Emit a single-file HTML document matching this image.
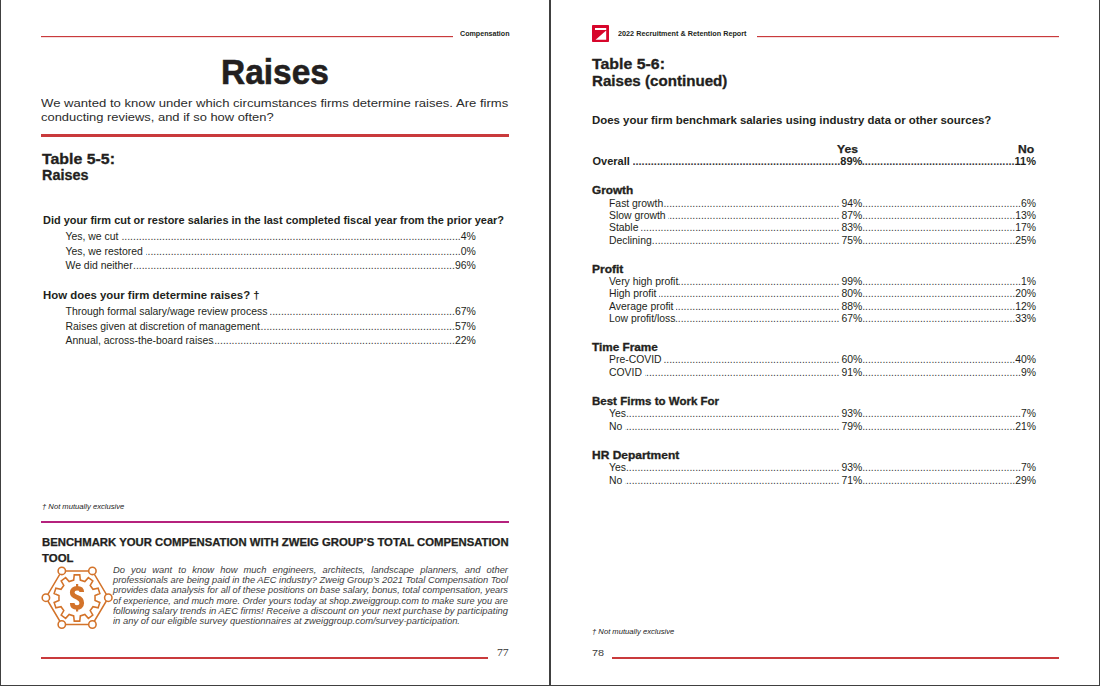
<!DOCTYPE html>
<html><head><meta charset="utf-8"><style>
html,body{margin:0;padding:0;background:#fff;}
body{width:1100px;height:686px;position:relative;overflow:hidden;font-family:"Liberation Sans", sans-serif;}
.t{position:absolute;white-space:nowrap;transform-origin:0 0;}
.r{position:absolute;}
.row{position:absolute;display:flex;white-space:nowrap;font-family:"Liberation Sans", sans-serif;}
.lb{flex:none;white-space:pre;}
.ld{flex:1 1 auto;overflow:hidden;direction:rtl;min-width:0;color:#3a3a3a;}
.pc{flex:none;}
.ld2{flex:none;display:flex;}
</style></head><body>
<div class="r" style="left:0px;top:0px;width:1px;height:686px;background:#404040;"></div>
<div class="r" style="left:1099px;top:0px;width:1px;height:686px;background:#404040;"></div>
<div class="r" style="left:0px;top:685px;width:1100px;height:1px;background:#404040;"></div>
<div class="r" style="left:549px;top:0px;width:2px;height:686px;background:#404040;"></div>
<div class="r" style="left:41px;top:36px;width:412px;height:1px;background:#c93a3c;box-shadow:0 0.5px 0.5px rgba(201,58,60,0.35)"></div>
<div class="t" style="left:459.75px;top:30.32px;font-size:7.3px;line-height:7.3px;font-weight:700;font-style:normal;color:#231f20;letter-spacing:0px;font-family:'Liberation Sans', sans-serif;transform:scaleX(0.9766);">Compensation</div>
<div class="t" style="left:221.33px;top:53.67px;font-size:35px;line-height:35px;font-weight:700;font-style:normal;color:#231f20;letter-spacing:0px;font-family:'Liberation Sans', sans-serif;transform:scaleX(0.9554);-webkit-text-stroke:0.60px #231f20;">Raises</div>
<div class="t" style="left:41.34px;top:97.18px;font-size:11.6px;line-height:11.6px;font-weight:400;font-style:normal;color:#2b2b2b;letter-spacing:0px;font-family:'Liberation Sans', sans-serif;transform:scaleX(1.1303);">We wanted to know under which circumstances firms determine raises. Are firms</div>
<div class="t" style="left:41.35px;top:110.68px;font-size:11.6px;line-height:11.6px;font-weight:400;font-style:normal;color:#2b2b2b;letter-spacing:0px;font-family:'Liberation Sans', sans-serif;transform:scaleX(1.1139);">conducting reviews, and if so how often?</div>
<div class="r" style="left:41px;top:134px;width:468px;height:3px;background:#c93a3c;"></div>
<div class="t" style="left:41.54px;top:151.85px;font-size:14px;line-height:14px;font-weight:700;font-style:normal;color:#231f20;letter-spacing:0px;font-family:'Liberation Sans', sans-serif;transform:scaleX(1.1337);-webkit-text-stroke:0.30px #231f20;">Table 5-5:</div>
<div class="t" style="left:41.60px;top:168.35px;font-size:14px;line-height:14px;font-weight:700;font-style:normal;color:#231f20;letter-spacing:0px;font-family:'Liberation Sans', sans-serif;transform:scaleX(1.0277);-webkit-text-stroke:0.30px #231f20;">Raises</div>
<div class="t" style="left:42.82px;top:215.29px;font-size:11px;line-height:11px;font-weight:700;font-style:normal;color:#231f20;letter-spacing:0px;font-family:'Liberation Sans', sans-serif;transform:scaleX(0.9948);">Did your firm cut or restore salaries in the last completed fiscal year from the prior year?</div>
<div class="row" style="left:65.5px;width:410.3px;top:231.65px;font-size:10.45px;line-height:10.45px;font-weight:400;color:#231f20"><span class="lb">Yes, we cut </span><span class="ld">............................................................................................................................................................................................................................................................................................................</span><span class="pc">4%</span></div>
<div class="row" style="left:65.5px;width:410.3px;top:246.65px;font-size:10.45px;line-height:10.45px;font-weight:400;color:#231f20"><span class="lb">Yes, we restored </span><span class="ld">............................................................................................................................................................................................................................................................................................................</span><span class="pc">0%</span></div>
<div class="row" style="left:65.5px;width:410.3px;top:260.75px;font-size:10.45px;line-height:10.45px;font-weight:400;color:#231f20"><span class="lb">We did neither</span><span class="ld">............................................................................................................................................................................................................................................................................................................</span><span class="pc">96%</span></div>
<div class="t" style="left:43.10px;top:290.29px;font-size:11px;line-height:11px;font-weight:700;font-style:normal;color:#231f20;letter-spacing:0px;font-family:'Liberation Sans', sans-serif;transform:scaleX(1.0360);">How does your firm determine raises? †</div>
<div class="row" style="left:65.5px;width:410.3px;top:307.15px;font-size:10.45px;line-height:10.45px;font-weight:400;color:#231f20"><span class="lb">Through formal salary/wage review process </span><span class="ld">............................................................................................................................................................................................................................................................................................................</span><span class="pc">67%</span></div>
<div class="row" style="left:65.5px;width:410.3px;top:322.15px;font-size:10.45px;line-height:10.45px;font-weight:400;color:#231f20"><span class="lb">Raises given at discretion of management</span><span class="ld">............................................................................................................................................................................................................................................................................................................</span><span class="pc">57%</span></div>
<div class="row" style="left:65.5px;width:410.3px;top:335.95px;font-size:10.45px;line-height:10.45px;font-weight:400;color:#231f20"><span class="lb">Annual, across-the-board raises</span><span class="ld">............................................................................................................................................................................................................................................................................................................</span><span class="pc">22%</span></div>
<div class="t" style="left:41.63px;top:503.01px;font-size:7.9px;line-height:7.9px;font-weight:400;font-style:italic;color:#222;letter-spacing:0px;font-family:'Liberation Sans', sans-serif;transform:scaleX(0.9676);">† Not mutually exclusive</div>
<div class="r" style="left:41px;top:521px;width:467.5px;height:2px;background:#b5217d;"></div>
<div class="t" style="left:41.60px;top:537.93px;font-size:10px;line-height:10px;font-weight:700;font-style:normal;color:#231f20;letter-spacing:0px;font-family:'Liberation Sans', sans-serif;transform:scaleX(1.1319);-webkit-text-stroke:0.25px #231f20;">BENCHMARK YOUR COMPENSATION WITH ZWEIG GROUP’S TOTAL COMPENSATION</div>
<div class="t" style="left:41.60px;top:554.33px;font-size:10px;line-height:10px;font-weight:700;font-style:normal;color:#231f20;letter-spacing:0px;font-family:'Liberation Sans', sans-serif;transform:scaleX(1.1415);-webkit-text-stroke:0.25px #231f20;">TOOL</div>
<div class="t" style="left:113px;top:566.12px;width:362.39px;font-size:8.6px;line-height:8.6px;font-style:italic;color:#404040;text-align:justify;text-align-last:justify;white-space:nowrap;height:8.6px;transform:scaleX(1.09)">Do you want to know how much engineers, architects, landscape planners, and other</div>
<div class="t" style="left:113px;top:576.22px;font-size:8.6px;line-height:8.6px;font-style:italic;color:#404040;transform:scaleX(1.0855)">professionals are being paid in the AEC industry? Zweig Group’s 2021 Total Compensation Tool</div>
<div class="t" style="left:113px;top:586.42px;font-size:8.6px;line-height:8.6px;font-style:italic;color:#404040;transform:scaleX(1.0785)">provides data analysis for all of these positions on base salary, bonus, total compensation, years</div>
<div class="t" style="left:113px;top:596.62px;font-size:8.6px;line-height:8.6px;font-style:italic;color:#404040;transform:scaleX(1.0725)">of experience, and much more. Order yours today at shop.zweiggroup.com to make sure you are</div>
<div class="t" style="left:113px;top:606.82px;font-size:8.6px;line-height:8.6px;font-style:italic;color:#404040;transform:scaleX(1.0977)">following salary trends in AEC firms! Receive a discount on your next purchase by participating</div>
<div class="t" style="left:113px;top:617.02px;font-size:8.6px;line-height:8.6px;font-style:italic;color:#404040;transform:scaleX(1.0973)">in any of our eligible survey questionnaires at zweiggroup.com/survey-participation.</div>
<svg class="r" style="left:0;top:0" width="550" height="686" viewBox="0 0 550 686">
<polygon points="61.8,570.9 92.4,570.9 108.3,597.7 92.4,624.5 61.8,624.5 45.9,597.7" fill="none" stroke="#d3732a" stroke-width="1.55"/>
<g fill="#fff" stroke="#d3732a" stroke-width="1.55">
<circle cx="61.8" cy="570.9" r="3.7"/><circle cx="92.4" cy="570.9" r="3.7"/>
<circle cx="108.3" cy="597.7" r="3.7"/><circle cx="92.4" cy="624.5" r="3.7"/>
<circle cx="61.8" cy="624.5" r="3.7"/><circle cx="45.9" cy="597.7" r="3.7"/>
</g>
<polygon points="73.68,580.10 74.24,574.86 79.76,574.86 80.32,580.10 84.84,581.57 88.37,577.66 92.83,580.90 90.20,585.47 92.99,589.32 98.15,588.23 99.86,593.47 95.04,595.62 95.04,600.38 99.86,602.53 98.15,607.77 92.99,606.68 90.20,610.53 92.83,615.10 88.37,618.34 84.84,614.43 80.32,615.90 79.76,621.14 74.24,621.14 73.68,615.90 69.16,614.43 65.63,618.34 61.17,615.10 63.80,610.53 61.01,606.68 55.85,607.77 54.14,602.53 58.96,600.38 58.96,595.62 54.14,593.47 55.85,588.23 61.01,589.32 63.80,585.47 61.17,580.90 65.63,577.66 69.16,581.57" fill="none" stroke="#d3732a" stroke-width="1.55" stroke-linejoin="miter"/>
<path d="M 81.8,592 C 81.8,589 79.5,588.3 77,588.3 C 74,588.3 72.2,590 72.2,592.5 C 72.2,596 76,596.8 77.5,597.5 C 80,598.5 81.8,600 81.8,603 C 81.8,606 79.5,607.5 77,607.5 C 74,607.5 72.2,606 72.2,603" fill="none" stroke="#d3732a" stroke-width="4.6"/>
<rect x="76" y="584" width="2.2" height="3" fill="#d3732a"/>
<rect x="76" y="608.5" width="2.2" height="3" fill="#d3732a"/>
</svg>
<div class="r" style="left:41px;top:657px;width:447px;height:2px;background:#c93a3c;"></div>
<div class="t" style="left:497.09px;top:648.03px;font-size:10px;line-height:10px;font-weight:400;font-style:normal;color:#333;letter-spacing:0px;font-family:'Liberation Serif', serif;transform:scaleX(1.1613);">77</div>
<svg class="r" style="left:592px;top:25px" width="17" height="17" viewBox="0 0 17 17">
<rect x="0" y="0" width="17" height="17" rx="0.8" fill="#d7062b"/>
<rect x="3" y="3" width="11.2" height="2" fill="#fff"/>
<polygon points="3.6,14.7 14.2,5.6 14.2,14.7" fill="#fff"/>
</svg>
<div class="t" style="left:617.75px;top:30.32px;font-size:7.3px;line-height:7.3px;font-weight:700;font-style:normal;color:#231f20;letter-spacing:0px;font-family:'Liberation Sans', sans-serif;transform:scaleX(0.9935);">2022 Recruitment &amp; Retention Report</div>
<div class="r" style="left:757px;top:36px;width:302px;height:1px;background:#c93a3c;box-shadow:0 0.5px 0.5px rgba(201,58,60,0.35)"></div>
<div class="t" style="left:592.44px;top:57.25px;font-size:14px;line-height:14px;font-weight:700;font-style:normal;color:#231f20;letter-spacing:0px;font-family:'Liberation Sans', sans-serif;transform:scaleX(1.1337);-webkit-text-stroke:0.30px #231f20;">Table 5-6:</div>
<div class="t" style="left:592.47px;top:74.15px;font-size:14px;line-height:14px;font-weight:700;font-style:normal;color:#231f20;letter-spacing:0px;font-family:'Liberation Sans', sans-serif;transform:scaleX(1.0807);-webkit-text-stroke:0.30px #231f20;">Raises (continued)</div>
<div class="t" style="left:592.10px;top:115.25px;font-size:11.4px;line-height:11.4px;font-weight:700;font-style:normal;color:#231f20;letter-spacing:0px;font-family:'Liberation Sans', sans-serif;transform:scaleX(1.0029);">Does your firm benchmark salaries using industry data or other sources?</div>
<div class="t" style="left:837.07px;top:144.13px;font-size:11.3px;line-height:11.3px;font-weight:700;font-style:normal;color:#231f20;letter-spacing:0px;font-family:'Liberation Sans', sans-serif;transform:scaleX(1.0752);-webkit-text-stroke:0.25px #231f20;">Yes</div>
<div class="t" style="left:1018.38px;top:144.13px;font-size:11.3px;line-height:11.3px;font-weight:700;font-style:normal;color:#231f20;letter-spacing:0px;font-family:'Liberation Sans', sans-serif;transform:scaleX(1.0721);-webkit-text-stroke:0.25px #231f20;">No</div>
<div class="row" style="left:592.5px;width:443.5px;top:156.09px;font-size:11px;line-height:11px;font-weight:700;color:#231f20"><span class="lb">Overall </span><span class="ld">............................................................................................................................................................................................................................................................................................................</span><span class="pc" style="padding-left:0px">89%</span><span class="ld2" style="width:173.70000000000005px"><span class="ld">............................................................................................................................................................................................................................................................................................................</span><span class="pc">11%</span></span></div>
<div class="t" style="left:592.09px;top:186.17px;font-size:10.2px;line-height:10.2px;font-weight:700;font-style:normal;color:#231f20;letter-spacing:0px;font-family:'Liberation Sans', sans-serif;transform:scaleX(1.1562);-webkit-text-stroke:0.30px #231f20;">Growth</div>
<div class="row" style="left:609px;width:427px;top:198.50px;font-size:10.4px;line-height:10.4px;font-weight:400;color:#231f20"><span class="lb">Fast growth</span><span class="ld">............................................................................................................................................................................................................................................................................................................</span><span class="pc" style="padding-left:2px">94%</span><span class="ld2" style="width:173.70000000000005px"><span class="ld">............................................................................................................................................................................................................................................................................................................</span><span class="pc">6%</span></span></div>
<div class="row" style="left:609px;width:427px;top:210.85px;font-size:10.4px;line-height:10.4px;font-weight:400;color:#231f20"><span class="lb">Slow growth </span><span class="ld">............................................................................................................................................................................................................................................................................................................</span><span class="pc" style="padding-left:2px">87%</span><span class="ld2" style="width:173.70000000000005px"><span class="ld">............................................................................................................................................................................................................................................................................................................</span><span class="pc">13%</span></span></div>
<div class="row" style="left:609px;width:427px;top:223.20px;font-size:10.4px;line-height:10.4px;font-weight:400;color:#231f20"><span class="lb">Stable </span><span class="ld">............................................................................................................................................................................................................................................................................................................</span><span class="pc" style="padding-left:2px">83%</span><span class="ld2" style="width:173.70000000000005px"><span class="ld">............................................................................................................................................................................................................................................................................................................</span><span class="pc">17%</span></span></div>
<div class="row" style="left:609px;width:427px;top:235.55px;font-size:10.4px;line-height:10.4px;font-weight:400;color:#231f20"><span class="lb">Declining</span><span class="ld">............................................................................................................................................................................................................................................................................................................</span><span class="pc" style="padding-left:2px">75%</span><span class="ld2" style="width:173.70000000000005px"><span class="ld">............................................................................................................................................................................................................................................................................................................</span><span class="pc">25%</span></span></div>
<div class="t" style="left:592.08px;top:264.67px;font-size:10.2px;line-height:10.2px;font-weight:700;font-style:normal;color:#231f20;letter-spacing:0px;font-family:'Liberation Sans', sans-serif;transform:scaleX(1.1778);-webkit-text-stroke:0.30px #231f20;">Profit</div>
<div class="row" style="left:609px;width:427px;top:277.00px;font-size:10.4px;line-height:10.4px;font-weight:400;color:#231f20"><span class="lb">Very high profit</span><span class="ld">............................................................................................................................................................................................................................................................................................................</span><span class="pc" style="padding-left:2px">99%</span><span class="ld2" style="width:173.70000000000005px"><span class="ld">............................................................................................................................................................................................................................................................................................................</span><span class="pc">1%</span></span></div>
<div class="row" style="left:609px;width:427px;top:289.35px;font-size:10.4px;line-height:10.4px;font-weight:400;color:#231f20"><span class="lb">High profit </span><span class="ld">............................................................................................................................................................................................................................................................................................................</span><span class="pc" style="padding-left:2px">80%</span><span class="ld2" style="width:173.70000000000005px"><span class="ld">............................................................................................................................................................................................................................................................................................................</span><span class="pc">20%</span></span></div>
<div class="row" style="left:609px;width:427px;top:301.70px;font-size:10.4px;line-height:10.4px;font-weight:400;color:#231f20"><span class="lb">Average profit </span><span class="ld">............................................................................................................................................................................................................................................................................................................</span><span class="pc" style="padding-left:2px">88%</span><span class="ld2" style="width:173.70000000000005px"><span class="ld">............................................................................................................................................................................................................................................................................................................</span><span class="pc">12%</span></span></div>
<div class="row" style="left:609px;width:427px;top:314.05px;font-size:10.4px;line-height:10.4px;font-weight:400;color:#231f20"><span class="lb">Low profit/loss</span><span class="ld">............................................................................................................................................................................................................................................................................................................</span><span class="pc" style="padding-left:2px">67%</span><span class="ld2" style="width:173.70000000000005px"><span class="ld">............................................................................................................................................................................................................................................................................................................</span><span class="pc">33%</span></span></div>
<div class="t" style="left:592.09px;top:342.87px;font-size:10.2px;line-height:10.2px;font-weight:700;font-style:normal;color:#231f20;letter-spacing:0px;font-family:'Liberation Sans', sans-serif;transform:scaleX(1.1545);-webkit-text-stroke:0.30px #231f20;">Time Frame</div>
<div class="row" style="left:609px;width:427px;top:355.20px;font-size:10.4px;line-height:10.4px;font-weight:400;color:#231f20"><span class="lb">Pre-COVID </span><span class="ld">............................................................................................................................................................................................................................................................................................................</span><span class="pc" style="padding-left:2px">60%</span><span class="ld2" style="width:173.70000000000005px"><span class="ld">............................................................................................................................................................................................................................................................................................................</span><span class="pc">40%</span></span></div>
<div class="row" style="left:609px;width:427px;top:367.55px;font-size:10.4px;line-height:10.4px;font-weight:400;color:#231f20"><span class="lb">COVID </span><span class="ld">............................................................................................................................................................................................................................................................................................................</span><span class="pc" style="padding-left:2px">91%</span><span class="ld2" style="width:173.70000000000005px"><span class="ld">............................................................................................................................................................................................................................................................................................................</span><span class="pc">9%</span></span></div>
<div class="t" style="left:592.10px;top:396.87px;font-size:10.2px;line-height:10.2px;font-weight:700;font-style:normal;color:#231f20;letter-spacing:0px;font-family:'Liberation Sans', sans-serif;transform:scaleX(1.1302);-webkit-text-stroke:0.30px #231f20;">Best Firms to Work For</div>
<div class="row" style="left:609px;width:427px;top:409.20px;font-size:10.4px;line-height:10.4px;font-weight:400;color:#231f20"><span class="lb">Yes</span><span class="ld">............................................................................................................................................................................................................................................................................................................</span><span class="pc" style="padding-left:2px">93%</span><span class="ld2" style="width:173.70000000000005px"><span class="ld">............................................................................................................................................................................................................................................................................................................</span><span class="pc">7%</span></span></div>
<div class="row" style="left:609px;width:427px;top:421.55px;font-size:10.4px;line-height:10.4px;font-weight:400;color:#231f20"><span class="lb">No </span><span class="ld">............................................................................................................................................................................................................................................................................................................</span><span class="pc" style="padding-left:2px">79%</span><span class="ld2" style="width:173.70000000000005px"><span class="ld">............................................................................................................................................................................................................................................................................................................</span><span class="pc">21%</span></span></div>
<div class="t" style="left:592.08px;top:450.87px;font-size:10.2px;line-height:10.2px;font-weight:700;font-style:normal;color:#231f20;letter-spacing:0px;font-family:'Liberation Sans', sans-serif;transform:scaleX(1.1764);-webkit-text-stroke:0.30px #231f20;">HR Department</div>
<div class="row" style="left:609px;width:427px;top:463.20px;font-size:10.4px;line-height:10.4px;font-weight:400;color:#231f20"><span class="lb">Yes</span><span class="ld">............................................................................................................................................................................................................................................................................................................</span><span class="pc" style="padding-left:2px">93%</span><span class="ld2" style="width:173.70000000000005px"><span class="ld">............................................................................................................................................................................................................................................................................................................</span><span class="pc">7%</span></span></div>
<div class="row" style="left:609px;width:427px;top:475.55px;font-size:10.4px;line-height:10.4px;font-weight:400;color:#231f20"><span class="lb">No </span><span class="ld">............................................................................................................................................................................................................................................................................................................</span><span class="pc" style="padding-left:2px">71%</span><span class="ld2" style="width:173.70000000000005px"><span class="ld">............................................................................................................................................................................................................................................................................................................</span><span class="pc">29%</span></span></div>
<div class="t" style="left:592.13px;top:627.91px;font-size:7.9px;line-height:7.9px;font-weight:400;font-style:italic;color:#222;letter-spacing:0px;font-family:'Liberation Sans', sans-serif;transform:scaleX(0.9676);">† Not mutually exclusive</div>
<div class="t" style="left:591.62px;top:648.47px;font-size:9.6px;line-height:9.6px;font-weight:400;font-style:normal;color:#3a3a3a;letter-spacing:0px;font-family:'Liberation Sans', sans-serif;transform:scaleX(1.1300);">78</div>
<div class="r" style="left:612px;top:657px;width:447px;height:2px;background:#c93a3c;"></div>
</body></html>
